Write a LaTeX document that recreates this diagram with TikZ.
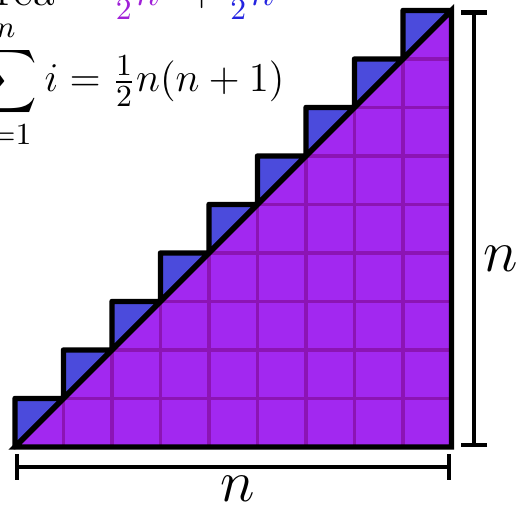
\documentclass[tikz,border=0pt]{standalone}
\usepackage{amsmath,amssymb}
\usepackage{xcolor}
\usepackage{tikz}
\usetikzlibrary{arrows.meta,positioning,calc}
\definecolor{stepblue}{HTML}{4B4BDC}
\definecolor{tripurple}{HTML}{A228F0}
\definecolor{gridpurple}{HTML}{8C14B4}
\definecolor{textpurple}{HTML}{A020D8}
\definecolor{textblue}{HTML}{2424E0}
\tikzset{
    every picture/.style={line cap=round,line join=round},
    stepfill/.style={fill=stepblue,draw=black,line width=1.6pt},
    trifill/.style={fill=tripurple},
    gridline/.style={draw=gridpurple,line width=0.9pt},
    trioutline/.style={draw=black,line width=1.6pt,line join=miter},
    dimline/.style={draw=black,line width=1.3pt,
      {Bar[width=7.5pt]}-{Bar[width=7.5pt]}},
    dimlabel/.style={font=\LARGE,inner sep=0pt},
    formula/.style={font=\fontsize{13}{15}\selectfont,inner sep=0pt}
}

\begin{document}
\begin{tikzpicture}[x=0.5cm,y=0.5cm]
  \useasboundingbox (-0.309,-1.216) rectangle (10.392,9.216);
  \clip (-0.309,-1.216) rectangle (10.392,9.216);
  \coordinate (bl) at (0,0);
  \coordinate (br) at (9,0);
  \coordinate (tr) at (9,9);

  % staircase above the diagonal
  \filldraw[stepfill] (bl) \foreach \k in {1,...,9}{ -- (\k-1,\k) -- (\k,\k) } -- cycle;

  % triangle and its grid
  \fill[trifill] (bl) -- (tr) -- (br) -- cycle;
  \foreach \k in {1,...,8}{
    \draw[gridline] (\k,0) -- (\k,\k);
    \draw[gridline] (\k,\k) -- (9,\k);
  }
  \draw[trioutline] (bl) -- (tr) -- (br) -- cycle;

  % dimensions
  \coordinate (dimR1) at ($(br)+(0.47,0)$);
  \coordinate (dimR2) at ($(tr)+(0.47,0)$);
  \coordinate (dimB1) at ($(bl)+(0,-0.41)$);
  \coordinate (dimB2) at ($(br)+(0,-0.41)$);
  \draw[dimline] (dimR1) -- (dimR2);
  \draw[dimline] (dimB1) -- (dimB2);
  \node[dimlabel,anchor=base west] (nright) at (9.65,3.61) {$n$};
  \node[dimlabel,anchor=base] (nbot) at (4.6,-1.13) {$n$};

  % formulas
  \node[formula,anchor=base east] (sumeq) at (5.57,7.32)
    {$\displaystyle\sum_{i=1}^{n} i = \tfrac{1}{2}n(n+1)$};
  \node[formula,anchor=base east] (area) at (5.36,9.11)
    {Area $= \textcolor{textpurple}{\tfrac{1}{2}n^2} + \textcolor{textblue}{\tfrac{1}{2}n}$};
\end{tikzpicture}
\end{document}
